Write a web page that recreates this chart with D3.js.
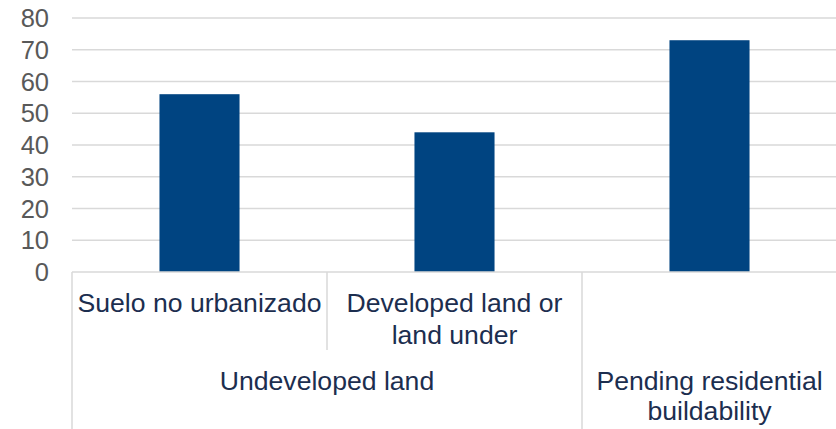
<!DOCTYPE html>
<html>
<head>
<meta charset="utf-8">
<script src="https://cdn.jsdelivr.net/npm/d3@7"></script>
<style>
  html, body { margin: 0; padding: 0; background: #ffffff; }
  svg { display: block; font-family: "Liberation Sans", Arial, sans-serif; }
</style>
</head>
<body>
<svg id="chart" width="836" height="429"></svg>
<script>
// ---- data ----
const categories = ["Suelo no urbanizado", "Developed land or land under", "Pending residential buildability"];
const categoryLines = [["Suelo no urbanizado"], ["Developed land or", "land under"], []];
const values = [56, 44, 73];
const groups = ["Undeveloped land", "Undeveloped land", "Pending residential buildability"];
const groupLabels = [
  { name: "Undeveloped land", from: 0, to: 1, lines: ["Undeveloped land"] },
  { name: "Pending residential buildability", from: 2, to: 2, lines: ["Pending residential", "buildability"] }
];
const yTicks = [0, 10, 20, 30, 40, 50, 60, 70, 80];

// ---- layout ----
const svg = d3.select("#chart");
const plotLeft = 72, plotRight = 837, plotTop = 18, plotBottom = 272;

const x = d3.scaleBand().domain(categories).range([plotLeft, plotRight]).padding(0);
const y = d3.scaleLinear().domain([0, 80]).range([plotBottom, plotTop]);
const barFrac = 0.314;

// gridlines
svg.append("g").selectAll("line").data(yTicks.filter(d => d > 0)).join("line")
  .attr("x1", plotLeft).attr("x2", plotRight)
  .attr("y1", d => y(d)).attr("y2", d => y(d))
  .attr("stroke", "#d9d9d9").attr("stroke-width", 1.5);

// y tick labels
svg.append("g").selectAll("text").data(yTicks).join("text")
  .attr("x", 49).attr("y", d => y(d))
  .attr("text-anchor", "end").attr("dominant-baseline", "central")
  .attr("font-size", 25.5).attr("fill", "#595959")
  .text(d => d);

// bars
svg.append("g").selectAll("rect").data(categories).join("rect")
  .attr("x", (d) => x(d) + x.bandwidth() * (1 - barFrac) / 2)
  .attr("width", x.bandwidth() * barFrac)
  .attr("y", (d, i) => y(values[i]))
  .attr("height", (d, i) => y(0) - y(values[i]))
  .attr("fill", "#004481");

// axis line
svg.append("line").attr("x1", plotLeft).attr("x2", plotRight)
  .attr("y1", plotBottom).attr("y2", plotBottom)
  .attr("stroke", "#d9d9d9").attr("stroke-width", 1.5);

// separators
const sepG = svg.append("g").attr("stroke", "#d9d9d9").attr("stroke-width", 1.5);
sepG.append("line").attr("x1", plotLeft).attr("x2", plotLeft).attr("y1", plotBottom).attr("y2", 429);
categories.forEach((c, i) => {
  if (i === 0) return;
  const xb = x(c);
  const sameGroup = groups[i] === groups[i - 1];
  sepG.append("line").attr("x1", xb).attr("x2", xb)
    .attr("y1", plotBottom).attr("y2", sameGroup ? 350 : 429);
});

// category labels
const catColor = "#1c2e4f";
categories.forEach((c, i) => {
  const cx = x(c) + x.bandwidth() / 2;
  categoryLines[i].forEach((ln, j) => {
    svg.append("text").attr("x", cx).attr("y", 312 + j * 32)
      .attr("text-anchor", "middle").attr("font-size", 26.6).attr("fill", catColor)
      .text(ln);
  });
});

// group labels
groupLabels.forEach(g => {
  const x0 = x(categories[g.from]);
  const x1 = x(categories[g.to]) + x.bandwidth();
  const cx = (x0 + x1) / 2;
  g.lines.forEach((ln, j) => {
    svg.append("text").attr("x", cx).attr("y", 390 + j * 30)
      .attr("text-anchor", "middle").attr("font-size", 26.6).attr("fill", catColor)
      .text(ln);
  });
});
</script>
</body>
</html>
